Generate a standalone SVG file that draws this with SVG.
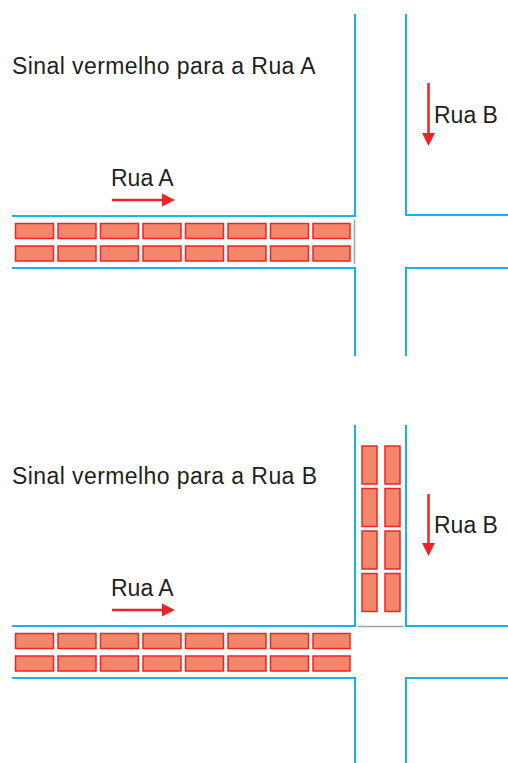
<svg xmlns="http://www.w3.org/2000/svg" width="508" height="763" viewBox="0 0 508 763">
<defs>
<style>
.road{fill:none;stroke:#1AB0E8;stroke-width:2}
.gray{fill:none;stroke:#A0A0A0;stroke-width:1.5}
.brick{fill:#F4866A;stroke:#E8262A;stroke-width:1.5}
.arr{fill:none;stroke:#EE2229;stroke-width:2.5}
.head{fill:#EE2229}
text{font-family:"Liberation Sans",Arial,sans-serif;font-size:23px;fill:#231F20}
.title{letter-spacing:0.42px}
</style>
<g id="hrow">
<rect class="brick" x="15.5" y="0" width="38" height="15"/>
<rect class="brick" x="58" y="0" width="38" height="15"/>
<rect class="brick" x="100.5" y="0" width="38" height="15"/>
<rect class="brick" x="143" y="0" width="38" height="15"/>
<rect class="brick" x="185.5" y="0" width="38" height="15"/>
<rect class="brick" x="228" y="0" width="38" height="15"/>
<rect class="brick" x="270.5" y="0" width="38" height="15"/>
<rect class="brick" x="313" y="0" width="37" height="15"/>
</g>
<g id="vcol">
<rect class="brick" x="0" y="446" width="15" height="38"/>
<rect class="brick" x="0" y="488.5" width="15" height="38"/>
<rect class="brick" x="0" y="531" width="15" height="38"/>
<rect class="brick" x="0" y="573.5" width="15" height="38"/>
</g>
</defs>
<rect width="508" height="763" fill="#FFFFFF"/>

<g id="roads">
<polyline class="road" points="12,216 355,216 355,14"/>
<polyline class="road" points="406,14 406,215 508,215"/>
<polyline class="road" points="12,268 355,268 355,356"/>
<polyline class="road" points="508,268 406,268 406,356"/>
<polyline class="road" points="12,626 355,626 355,425"/>
<polyline class="road" points="406,425 406,626 508,626"/>
<polyline class="road" points="12,678 355,678 355,763"/>
<polyline class="road" points="508,678 406,678 406,763"/>
</g>

<g id="stoplines">
<line class="gray" x1="354.5" y1="220" x2="354.5" y2="264"/>
<line class="gray" x1="358" y1="626.5" x2="403" y2="626.5"/>
</g>

<g id="cars-top">
<use href="#hrow" y="223.5"/>
<use href="#hrow" y="246"/>
</g>
<g id="cars-bottom">
<use href="#hrow" y="633.5"/>
<use href="#hrow" y="656"/>
<use href="#vcol" x="362"/>
<use href="#vcol" x="385"/>
</g>

<g id="arrows">
<line class="arr" x1="112" y1="200" x2="163" y2="200"/>
<polygon class="head" points="162,193.5 175,200 162,206.5"/>
<line class="arr" x1="428.5" y1="83" x2="428.5" y2="134"/>
<polygon class="head" points="422,133 435,133 428.5,146"/>
<line class="arr" x1="112" y1="610" x2="163" y2="610"/>
<polygon class="head" points="162,603.5 175,610 162,616.5"/>
<line class="arr" x1="428.5" y1="494" x2="428.5" y2="544"/>
<polygon class="head" points="422,543 435,543 428.5,556"/>
</g>

<g id="labels">
<text class="title" x="12" y="74">Sinal vermelho para a Rua A</text>
<text x="111" y="186">Rua A</text>
<text x="434" y="123">Rua B</text>
<text class="title" x="12" y="484">Sinal vermelho para a Rua B</text>
<text x="111" y="596">Rua A</text>
<text x="434" y="533">Rua B</text>
</g>
</svg>
